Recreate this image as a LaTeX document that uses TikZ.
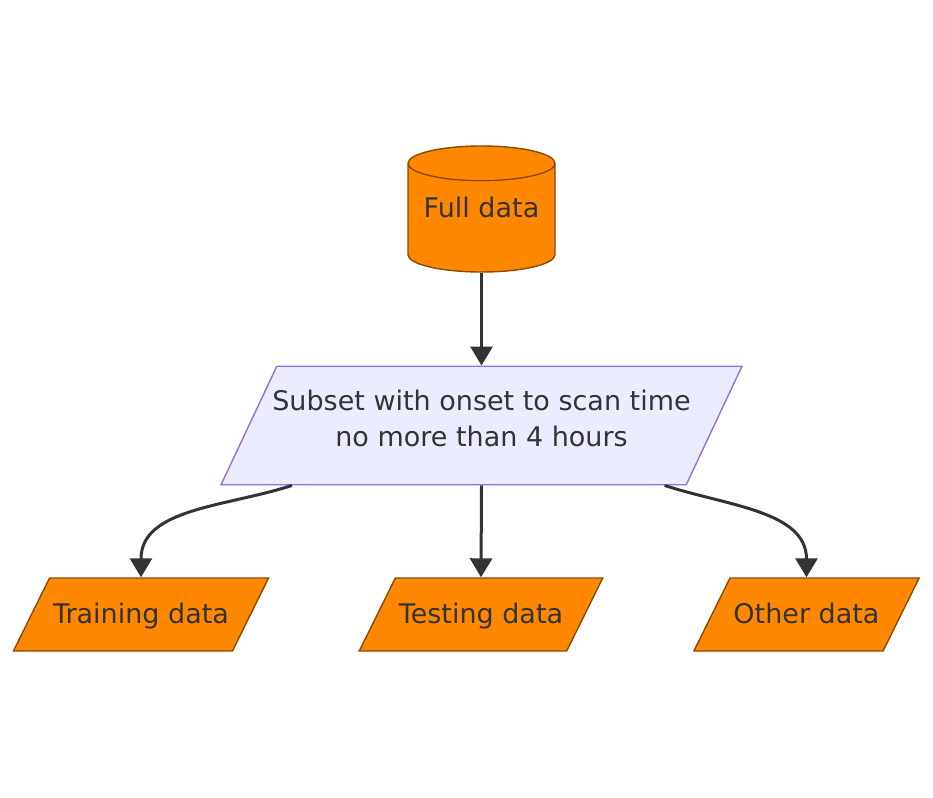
\documentclass[tikz,border=0pt]{standalone}
\usepackage{fontspec}
\setmainfont{DejaVu Sans}
\usepackage{tikz}
\usetikzlibrary{shapes.geometric,arrows.meta}
\definecolor{datafill}{HTML}{FF8800}
\definecolor{dataline}{HTML}{8B4A00}
\definecolor{subfill}{HTML}{ECECFF}
\definecolor{subline}{HTML}{9370DB}
\definecolor{ink}{HTML}{333333}
\begin{document}
\begin{tikzpicture}[x=1pt,y=-1pt,
  font=\fontsize{27}{36}\selectfont, text=ink,
  store/.style={cylinder, shape border rotate=90, aspect=0.3,
    draw=dataline, fill=datafill, line width=1.4pt, anchor=shape center,
    minimum width=147pt, minimum height=126pt, inner sep=0pt,
    text height=21pt, text depth=23pt},
  dataset/.style={trapezium, trapezium left angle=63.7, trapezium right angle=116.3,
    draw=dataline, fill=datafill, line width=1.4pt,
    inner xsep=3.5pt, inner ysep=24pt, text height=21pt, text depth=4pt},
  subsetbox/.style={trapezium, trapezium left angle=64.8, trapezium right angle=115.2,
    draw=subline, fill=subfill, line width=1.4pt,
    inner xsep=-4.5pt, inner ysep=24pt, align=center},
  flow/.style={draw=ink, line width=3pt, -{Triangle[length=19pt,width=22pt]}}]
\useasboundingbox (0,0) rectangle (933,797);
\path (481.5,209) node[store] (full) {Full data}
      (481.5,425.5) node[subsetbox] (subset) {Subset with onset to scan time\\no more than 4 hours\rule[-14pt]{0pt}{0pt}}
      (141,614.5) node[dataset] (train) {Training data}
      (481,614.5) node[dataset] (test) {Testing data}
      (806.5,614.5) node[dataset] (other) {Other data}
      ;
\draw[flow] (full.bottom) -- (full.bottom |- subset.north);
\draw[flow] ([xshift=72pt]subset.bottom left corner) to[out=198, in=90] (train.center |- train.north);
\draw[flow] (subset.center |- subset.south) -- (test.center |- test.north);
\draw[flow] ([xshift=-22pt]subset.bottom right corner) to[out=-18, in=90] (other.center |- other.north);
\end{tikzpicture}
\end{document}
